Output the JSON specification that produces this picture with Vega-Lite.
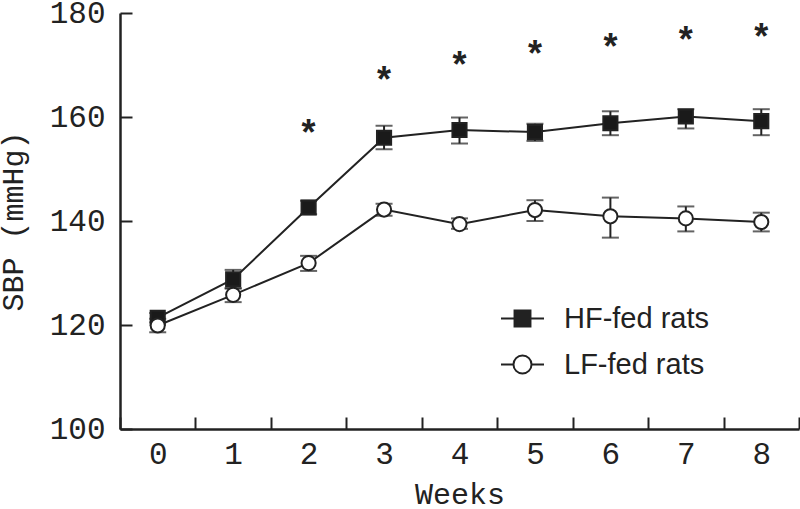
{
  "$schema": "https://vega.github.io/schema/vega-lite/v6.json",
  "width": 679,
  "height": 416,
  "autosize": {"type": "none"},
  "padding": {"left": 120, "top": 13, "right": 1, "bottom": 80},
  "background": "white",
  "config": {
    "view": {"stroke": null},
    "axis": {
      "grid": false,
      "domainColor": "#222222",
      "domainWidth": 2.5,
      "tickColor": "#222222",
      "tickWidth": 2,
      "tickSize": -12,
      "labelFont": "Liberation Mono",
      "labelFontSize": 31,
      "labelColor": "#222222",
      "titleFont": "Liberation Mono",
      "titleFontSize": 30,
      "titleFontWeight": "normal",
      "titleColor": "#222222"
    }
  },
  "datasets": {
    "sbp": [
      {"week": 0, "group": "HF-fed rats", "mean": 121.4, "lo": 120.5, "hi": 122.3},
      {"week": 1, "group": "HF-fed rats", "mean": 128.8, "lo": 127.0, "hi": 130.6},
      {"week": 2, "group": "HF-fed rats", "mean": 142.6, "lo": 141.3, "hi": 143.9},
      {"week": 3, "group": "HF-fed rats", "mean": 156.0, "lo": 153.8, "hi": 158.3},
      {"week": 4, "group": "HF-fed rats", "mean": 157.5, "lo": 154.9, "hi": 159.9},
      {"week": 5, "group": "HF-fed rats", "mean": 157.1, "lo": 155.4, "hi": 158.7},
      {"week": 6, "group": "HF-fed rats", "mean": 158.8, "lo": 156.5, "hi": 161.1},
      {"week": 7, "group": "HF-fed rats", "mean": 160.1, "lo": 157.8, "hi": 161.5},
      {"week": 8, "group": "HF-fed rats", "mean": 159.2, "lo": 156.5, "hi": 161.5},
      {"week": 0, "group": "LF-fed rats", "mean": 119.9, "lo": 118.6, "hi": 121.2},
      {"week": 1, "group": "LF-fed rats", "mean": 125.8, "lo": 124.4, "hi": 127.1},
      {"week": 2, "group": "LF-fed rats", "mean": 131.9, "lo": 130.4, "hi": 133.3},
      {"week": 3, "group": "LF-fed rats", "mean": 142.2, "lo": 141.0, "hi": 143.3},
      {"week": 4, "group": "LF-fed rats", "mean": 139.4, "lo": 138.5, "hi": 140.5},
      {"week": 5, "group": "LF-fed rats", "mean": 142.1, "lo": 140.0, "hi": 144.0},
      {"week": 6, "group": "LF-fed rats", "mean": 140.9, "lo": 136.8, "hi": 144.5},
      {"week": 7, "group": "LF-fed rats", "mean": 140.5, "lo": 138.0, "hi": 142.8},
      {"week": 8, "group": "LF-fed rats", "mean": 139.8, "lo": 138.0, "hi": 141.6}
    ],
    "stars": [
      {"week": 2, "pos": 158.3, "mark": "*"},
      {"week": 3, "pos": 168.5, "mark": "*"},
      {"week": 4, "pos": 171.3, "mark": "*"},
      {"week": 5, "pos": 173.5, "mark": "*"},
      {"week": 6, "pos": 174.8, "mark": "*"},
      {"week": 7, "pos": 176.1, "mark": "*"},
      {"week": 8, "pos": 176.7, "mark": "*"}
    ]
  },
  "encoding": {
    "x": {
      "field": "week",
      "type": "ordinal",
      "scale": {"type": "band", "domain": [0, 1, 2, 3, 4, 5, 6, 7, 8], "paddingInner": 0, "paddingOuter": 0},
      "axis": {"title": "Weeks", "labelAngle": 0, "tickBand": "extent", "labelPadding": 22, "titlePadding": 10}
    }
  },
  "resolve": {"scale": {"shape": "independent"}, "legend": {"shape": "independent"}},
  "layer": [
    {
      "data": {"name": "sbp"},
      "mark": {"type": "rule", "color": "#222222", "strokeWidth": 2},
      "encoding": {
        "y": {"field": "lo", "type": "quantitative"},
        "y2": {"field": "hi"},
        "detail": {"field": "group"}
      }
    },
    {
      "data": {"name": "sbp"},
      "mark": {"type": "tick", "color": "#222222", "thickness": 2, "size": 17},
      "encoding": {"y": {"field": "lo", "type": "quantitative"}}
    },
    {
      "data": {"name": "sbp"},
      "mark": {"type": "tick", "color": "#222222", "thickness": 2, "size": 17},
      "encoding": {"y": {"field": "hi", "type": "quantitative"}}
    },
    {
      "data": {"name": "sbp"},
      "mark": {"type": "line", "color": "#222222", "strokeWidth": 2},
      "encoding": {
        "y": {"field": "mean", "type": "quantitative"},
        "detail": {"field": "group"}
      }
    },
    {
      "data": {"name": "sbp"},
      "mark": {"type": "point", "filled": true, "stroke": "#222222", "strokeWidth": 2, "opacity": 1, "size": 200},
      "encoding": {
        "y": {
          "field": "mean",
          "type": "quantitative",
          "scale": {"domain": [100, 180], "nice": false, "zero": false},
          "axis": {"title": "SBP (mmHg)", "values": [100, 120, 140, 160, 180], "labelPadding": 27, "titlePadding": 21}
        },
        "shape": {
          "field": "group",
          "type": "nominal",
          "scale": {"domain": ["HF-fed rats", "LF-fed rats"], "range": ["square", "circle"]},
          "legend": null
        },
        "fill": {
          "field": "group",
          "type": "nominal",
          "scale": {"domain": ["HF-fed rats", "LF-fed rats"], "range": ["#1a1a1a", "#ffffff"]},
          "legend": null
        }
      }
    },
    {
      "data": {"name": "sbp"},
      "transform": [{"filter": "datum.week < 0"}],
      "mark": {"type": "point", "filled": false, "color": "#222222", "strokeWidth": 2, "opacity": 1},
      "encoding": {
        "y": {"field": "mean", "type": "quantitative"},
        "shape": {
          "field": "group",
          "type": "nominal",
          "scale": {
            "domain": ["HF-fed rats", "LF-fed rats"],
            "range": [
              "M-1,0H1M-0.37,-0.37H0.37V0.37H-0.37ZM-0.37,-0.3H0.37M-0.37,-0.22H0.37M-0.37,-0.15H0.37M-0.37,-0.07H0.37M-0.37,0H0.37M-0.37,0.07H0.37M-0.37,0.15H0.37M-0.37,0.22H0.37M-0.37,0.3H0.37",
              "M-1,0H-0.42M0.42,0H1M-0.42,0A0.42,0.42 0 1,1 0.42,0A0.42,0.42 0 1,1 -0.42,0Z"
            ]
          },
          "legend": {
            "title": null,
            "orient": "none",
            "legendX": 380,
            "legendY": 283,
            "padding": 0,
            "symbolSize": 1849,
            "symbolStrokeColor": "#222222",
            "symbolStrokeWidth": 2,
            "labelFont": "Liberation Sans",
            "labelFontSize": 29,
            "labelColor": "#222222",
            "labelOffset": 19,
            "rowPadding": 8
          }
        }
      }
    },
    {
      "data": {"name": "stars"},
      "mark": {"type": "text", "font": "Liberation Sans", "fontSize": 36, "fontWeight": "bold", "color": "#222222", "baseline": "middle", "dy": 8},
      "encoding": {
        "y": {"field": "pos", "type": "quantitative"},
        "text": {"field": "mark"}
      }
    }
  ]
}
